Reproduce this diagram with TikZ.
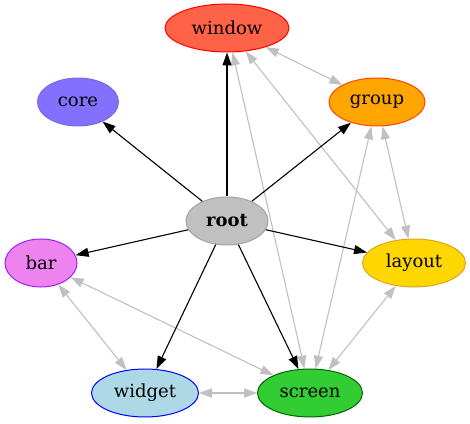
\documentclass[tikz,border=0pt]{standalone}
\usepackage{fontspec}
\setmainfont{DejaVu Serif}
\usetikzlibrary{shapes.geometric,arrows.meta}
\definecolor{tomato}{HTML}{FF6347}
\definecolor{slateb}{HTML}{8470FF}
\definecolor{slatebd}{HTML}{7A68E8}
\definecolor{orangefill}{HTML}{FFA500}
\definecolor{orangered}{HTML}{FF4500}
\definecolor{violetfill}{HTML}{EE82EE}
\definecolor{purpleb}{HTML}{A020F0}
\definecolor{goldfill}{HTML}{FFD700}
\definecolor{goldenrod}{HTML}{DAA520}
\definecolor{lightblue}{HTML}{ADD8E6}
\definecolor{limegreen}{HTML}{32CD32}
\definecolor{darkgreen}{HTML}{006400}
\definecolor{edgegray}{HTML}{C0C0C0}
\begin{document}
\begin{tikzpicture}[
			x=1pt, y=1pt,
			every node/.style={ellipse, draw, inner sep=0pt, minimum height=48pt, line width=1pt,
					font=\fontsize{18}{20}\selectfont},
			tree/.style={draw=black, line width=1.1pt, -{Triangle[length=13pt,width=9pt]}},
			link/.style={draw=edgegray, line width=1.1pt,
					{Triangle[length=13pt,width=9pt]}-{Triangle[length=13pt,width=9pt]}}
		]
		\useasboundingbox (0,0) rectangle (470,423);
		\node[fill=tomato, draw=red, minimum width=124pt] (window) at (227,395) {window};
		\node[fill=slateb, draw=slatebd, minimum width=81pt] (core) at (78,321) {core};
		\node[fill=orangefill, draw=orangered, minimum width=96pt] (group) at (377,321) {group};
		\node[fill=edgegray, draw=edgegray!85!black, minimum width=82pt] (root) at (227,202) {\textbf{root}};
		\node[fill=violetfill, draw=purpleb, minimum width=72pt] (bar) at (41,160) {bar};
		\node[fill=goldfill, draw=goldenrod, minimum width=103pt] (layout) at (414,160) {layout};
		\node[fill=lightblue, draw=blue, minimum width=107pt] (widget) at (145,30) {widget};
		\node[fill=limegreen, draw=darkgreen, minimum width=105pt] (screen) at (310,30) {screen};

		\draw[link] (window) -- (group);
		\draw[link] (window) -- (layout);
		\draw[link] (window) -- (screen);
		\draw[link] (group) -- (layout);
		\draw[link] (group) -- (screen);
		\draw[link] (layout) -- (screen);
		\draw[link] (bar) -- (widget);
		\draw[link] (bar) -- (screen);
		\draw[link] (widget) -- (screen);

		\foreach \leaf in {window,core,group,bar,layout,widget,screen}
		\draw[tree] (root) -- (\leaf);
	\end{tikzpicture}
\end{document}
